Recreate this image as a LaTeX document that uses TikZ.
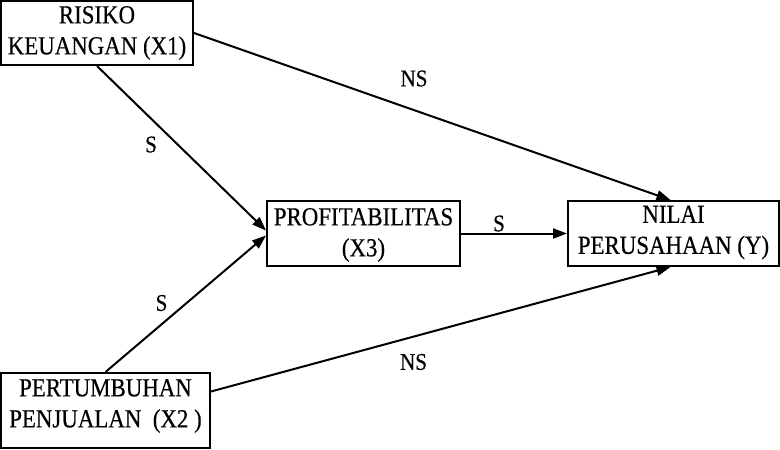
\documentclass[tikz,border=0pt]{standalone}
\usepackage{fontspec}
\setmainfont{Liberation Serif}
\newfontfamily\bxf[FakeStretch=0.88,FakeBold=0.4]{Liberation Serif}
\usetikzlibrary{arrows.meta,calc}
\begin{document}
\begin{tikzpicture}[x=1pt,y=-1pt,
  boxst/.style={draw,line width=2pt,inner sep=0pt,rectangle},
  txt/.style={align=center,inner sep=0pt,font=\bxf\fontsize{26}{31}\selectfont},
  lbl/.style={inner sep=0pt,font=\bxf\fontsize{24}{28}\selectfont},
  arr/.style={line width=2pt,-{Triangle[length=14pt,width=10pt]}},
  ln/.style={line width=2pt}]
\useasboundingbox (0,0) rectangle (780,450);
\node[boxst,minimum width=192pt,minimum height=64pt] (X1) at (97,33) {};
\node[boxst,minimum width=193pt,minimum height=65pt] (X3) at (363.5,233.5) {};
\node[boxst,minimum width=211pt,minimum height=65pt] (Y) at (673.5,233.5) {};
\node[boxst,minimum width=209pt,minimum height=75pt] (X2) at (105.5,410.5) {};
\node[txt] (t1) at (97,33) {RISIKO\\KEUANGAN (X1)};
\node[txt] (t3) at (363.5,235) {PROFITABILITAS\\(X3)};
\node[txt] (tY) at (673.5,232.5) {NILAI\\PERUSAHAAN (Y)};
\node[txt] (t2) at (105.5,406) {PERTUMBUHAN\\PENJUALAN\ \ (X2 )};
\draw[arr] (X1.east) -- ($(Y.north)+(-3,0)$);
\draw[arr] (X1.south) -- ($(X3.west)+(0,-3)$);
\draw[arr] (X2.north) -- ($(X3.west)+(0,2)$);
\draw[arr] (X3.east) -- (Y.west);
\draw[arr] ($(X2.east)+(0,-19)$) -- ($(Y.south)+(-3,0)$);
\node[lbl] (l1) at (414,78.5) {NS};
\node[lbl] (l2) at (151,144.5) {S};
\node[lbl] (l3) at (499,223.5) {S};
\node[lbl] (l4) at (161.5,303) {S};
\node[lbl] (l5) at (413.5,362) {NS};
\end{tikzpicture}
\end{document}
